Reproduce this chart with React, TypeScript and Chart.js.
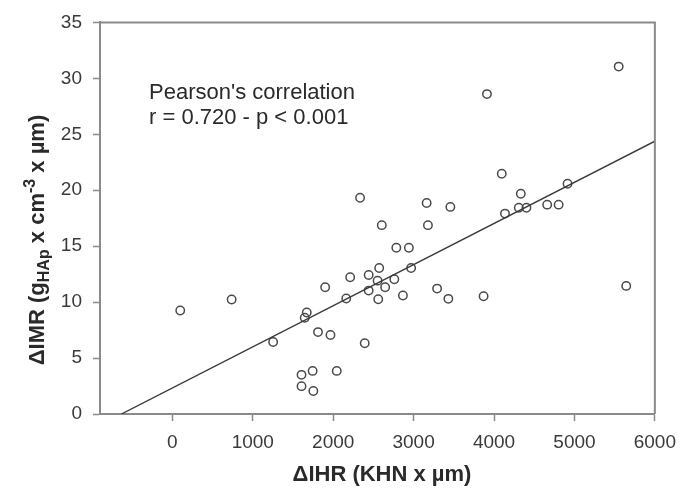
import React, { useEffect, useRef } from "react";
import { Chart, registerables } from "chart.js";

Chart.register(...registerables);

// ΔIHR (KHN x µm) values
const ihrValues = [
  98, 737, 1253, 1606, 1606, 1646, 1671, 1744, 1753, 1811, 1900, 1966, 2044,
  2162, 2211, 2334, 2392, 2441, 2441, 2552, 2560, 2572, 2604, 2646, 2760, 2785,
  2867, 2941, 2969, 3162, 3178, 3292, 3432, 3457, 3870, 3912, 4096, 4136, 4308,
  4333, 4403, 4661, 4803, 4914, 5550, 5644,
];
// ΔIMR values
const imrValues = [
  9.25, 10.23, 6.43, 3.5, 2.49, 8.6, 9.07, 3.85, 2.05, 7.32, 11.33, 7.06, 3.85,
  10.32, 12.22, 19.33, 6.32, 12.43, 11.03, 11.92, 10.26, 13.05, 16.88, 11.33,
  12.04, 14.86, 10.59, 14.86, 13.05, 18.86, 16.88, 11.21, 10.29, 18.51, 10.52,
  28.59, 21.47, 17.91, 18.44, 19.69, 18.44, 18.71, 18.71, 20.58, 31.05, 11.45,
];
// regression line end points
const fitX = [-634, 6000];
const fitY = [0, 24.38];

const xTickValues = [0, 1000, 2000, 3000, 4000, 5000, 6000];
const yTickValues = [0, 5, 10, 15, 20, 25, 30, 35];
const xRange = [-900, 6000];
const yRange = [0, 35];

const annotationLines = ["Pearson's correlation", "r = 0.720 - p < 0.001"];

const FONT = '"Liberation Sans", Arial, Helvetica, sans-serif';
const AXIS_COLOR = "#8a8a8a";

const decorPlugin = {
  id: "decor",
  afterDraw(chart: any) {
    const { ctx, chartArea } = chart;
    const { left, right, top, bottom } = chartArea;
    ctx.save();
    // top and right frame
    ctx.strokeStyle = AXIS_COLOR;
    ctx.lineWidth = 2;
    ctx.beginPath();
    ctx.moveTo(left, top);
    ctx.lineTo(right, top);
    ctx.lineTo(right, bottom);
    ctx.stroke();

    // annotation
    ctx.fillStyle = "#2a2a2a";
    ctx.font = `22px ${FONT}`;
    ctx.textAlign = "left";
    ctx.textBaseline = "alphabetic";
    ctx.fillText(annotationLines[0], 149, 99);
    ctx.fillText(annotationLines[1], 149, 124);

    // x title
    ctx.font = `bold 22px ${FONT}`;
    ctx.textAlign = "center";
    ctx.fillText("ΔIHR (KHN x µm)", 382, 481);

    // y title with sub/superscripts
    const parts: [string, number, number][] = [
      ["ΔIMR (g", 22, 0],
      ["HAp", 16, 5],
      [" x cm", 22, 0],
      ["-3", 16, -9],
      [" x µm)", 22, 0],
    ];
    ctx.textAlign = "left";
    let total = 0;
    const widths = parts.map(([t, s]) => {
      ctx.font = `bold ${s}px ${FONT}`;
      const w = ctx.measureText(t).width;
      total += w;
      return w;
    });
    ctx.translate(44, 240);
    ctx.rotate(-Math.PI / 2);
    let x = -total / 2;
    parts.forEach(([t, s, dy], i) => {
      ctx.font = `bold ${s}px ${FONT}`;
      ctx.fillText(t, x, dy);
      x += widths[i];
    });
    ctx.restore();
  },
};

export default function App() {
  const canvasRef = useRef<HTMLCanvasElement | null>(null);

  useEffect(() => {
    const canvas = canvasRef.current;
    if (!canvas) return;
    const points = ihrValues.map((x, i) => ({ x, y: imrValues[i] }));
    const fit = fitX.map((x, i) => ({ x, y: fitY[i] }));

    const chart = new Chart(canvas, {
      type: "scatter",
      data: {
        datasets: [
          {
            data: fit,
            showLine: true,
            borderColor: "#3a3a3a",
            borderWidth: 1.4,
            pointRadius: 0,
            fill: false,
          },
          {
            data: points,
            pointRadius: 4.2,
            pointBorderWidth: 1.5,
            borderColor: "#4a4a4a",
            backgroundColor: "rgba(0,0,0,0)",
            pointBackgroundColor: "rgba(0,0,0,0)",
          },
        ],
      },
      options: {
        animation: false,
        responsive: false,
        devicePixelRatio: 1,
        layout: { padding: { top: 21, right: 24, left: 0, bottom: 0 } },
        plugins: {
          legend: { display: false },
          tooltip: { enabled: false },
        },
        scales: {
          x: {
            type: "linear",
            min: xRange[0],
            max: xRange[1],
            afterBuildTicks: (scale: any) => {
              scale.ticks = xTickValues.map((v) => ({ value: v }));
            },
            afterFit: (scale: any) => {
              scale.height = 79;
            },
            grid: {
              drawOnChartArea: false,
              drawTicks: true,
              tickLength: 7,
              tickColor: AXIS_COLOR,
              tickWidth: 1.5,
            },
            border: { display: true, color: AXIS_COLOR, width: 2 },
            ticks: {
              padding: 10,
              color: "#3a3a3a",
              font: { family: FONT, size: 19 },
              maxRotation: 0,
              autoSkip: false,
              callback: (v: any) => String(v),
            },
          },
          y: {
            type: "linear",
            min: yRange[0],
            max: yRange[1],
            afterBuildTicks: (scale: any) => {
              scale.ticks = yTickValues.map((v) => ({ value: v }));
            },
            afterFit: (scale: any) => {
              scale.width = 100;
            },
            grid: {
              drawOnChartArea: false,
              drawTicks: true,
              tickLength: 7,
              tickColor: AXIS_COLOR,
              tickWidth: 1.5,
            },
            border: { display: true, color: AXIS_COLOR, width: 2 },
            ticks: {
              padding: 11,
              color: "#3a3a3a",
              font: { family: FONT, size: 19 },
              autoSkip: false,
              callback: (v: any) => String(v),
            },
          },
        },
      },
      plugins: [decorPlugin],
    });
    return () => chart.destroy();
  }, []);

  return (
    <div
      style={{
        position: "fixed",
        left: 0,
        top: 0,
        width: 686,
        height: 493,
        background: "#fff",
      }}
    >
      <canvas ref={canvasRef} width={686} height={493} />
    </div>
  );
}
